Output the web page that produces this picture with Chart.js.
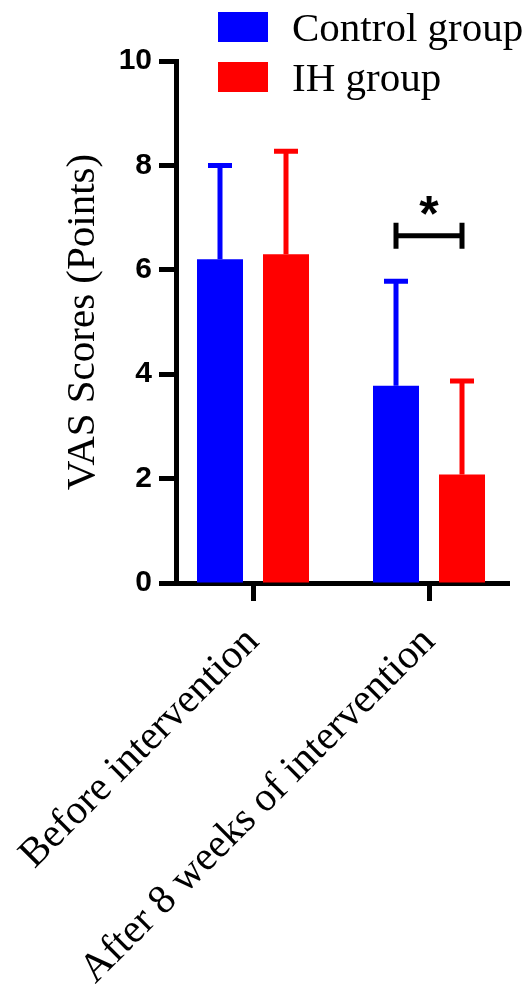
<!DOCTYPE html>
<html>
<head>
<meta charset="utf-8">
<script src="https://cdn.jsdelivr.net/npm/chart.js@4.4.1/dist/chart.umd.min.js"></script>
<style>
  html, body { margin: 0; padding: 0; background: #fff; }
  canvas { display: block; }
</style>
</head>
<body>
<canvas id="c" width="528" height="995"></canvas>
<script>
// ---- data ----
const categories = ['Before intervention', 'After 8 weeks of intervention'];
const seriesNames = ['Control group', 'IH group'];
const controlMean = [6.2, 3.78];
const controlSD = [1.8, 2.0];
const ihMean = [6.3, 2.08];
const ihSD = [1.97, 1.79];
const yTicks = [0, 2, 4, 6, 8, 10];
const sigCategory = 1;      // index of category with significance bracket
const sigValue = 6.65;      // bracket height in VAS points
const sigLabel = '*';

const BLUE = '#0000FF', RED = '#FF0000';
const SERIF = '"Liberation Serif", "Times New Roman", serif';
const SANS = '"Liberation Sans", Arial, sans-serif';

const errorBars = {
  id: 'errorBars',
  afterDatasetsDraw(chart) {
    const ctx = chart.ctx, y = chart.scales.y;
    chart.data.datasets.forEach((ds, di) => {
      const meta = chart.getDatasetMeta(di);
      meta.data.forEach((bar, i) => {
        const top = y.getPixelForValue(ds.means[i] + ds.sds[i]);
        ctx.save();
        ctx.strokeStyle = ds.backgroundColor;
        ctx.lineWidth = 5;
        ctx.beginPath();
        ctx.moveTo(bar.x, bar.y);
        ctx.lineTo(bar.x, top);
        ctx.moveTo(bar.x - 12, top);
        ctx.lineTo(bar.x + 12, top);
        ctx.stroke();
        ctx.restore();
      });
    });
    // significance bracket
    const a = chart.getDatasetMeta(0).data[sigCategory];
    const b = chart.getDatasetMeta(1).data[sigCategory];
    const yy = y.getPixelForValue(sigValue);
    ctx.save();
    ctx.strokeStyle = '#000';
    ctx.lineWidth = 5;
    ctx.beginPath();
    ctx.moveTo(a.x, yy); ctx.lineTo(b.x, yy);
    ctx.moveTo(a.x, yy - 13); ctx.lineTo(a.x, yy + 13);
    ctx.moveTo(b.x, yy - 13); ctx.lineTo(b.x, yy + 13);
    ctx.stroke();
    ctx.fillStyle = '#000';
    ctx.font = 'bold 50px ' + SANS;
    ctx.textAlign = 'center';
    ctx.textBaseline = 'alphabetic';
    ctx.fillText(sigLabel, (a.x + b.x) / 2, yy - 5);
    ctx.restore();
  }
};

const customLegend = {
  id: 'customLegend',
  afterDraw(chart) {
    const ctx = chart.ctx;
    chart.data.datasets.forEach((ds, i) => {
      const top = 12 + i * 50;
      ctx.save();
      ctx.fillStyle = ds.backgroundColor;
      ctx.fillRect(218, top, 50, 30);
      ctx.fillStyle = '#000';
      ctx.font = '41px ' + SERIF;
      ctx.textAlign = 'left';
      ctx.textBaseline = 'alphabetic';
      ctx.fillText(ds.label, 292, top + 29);
      ctx.restore();
    });
  }
};

new Chart(document.getElementById('c'), {
  type: 'bar',
  data: {
    datasets: [
      {
        label: seriesNames[0],
        data: controlMean.map((v, i) => ({ x: i, y: v })),
        means: controlMean, sds: controlSD,
        backgroundColor: BLUE,
        borderWidth: 0
      },
      {
        label: seriesNames[1],
        data: ihMean.map((v, i) => ({ x: i, y: v })),
        means: ihMean, sds: ihSD,
        backgroundColor: RED,
        borderWidth: 0
      }
    ]
  },
  options: {
    responsive: false,
    animation: false,
    categoryPercentage: 0.75,
    barPercentage: 0.697,
    layout: { padding: { top: 61, left: 55, right: 19, bottom: 0 } },
    plugins: { legend: { display: false }, tooltip: { enabled: false } },
    scales: {
      x: {
        type: 'linear',
        offset: false,
        min: -0.4375,
        max: 1.4545,
        afterBuildTicks: s => { s.ticks = categories.map((_, i) => ({ value: i })); },
        afterFit: s => { s.height = 412; s.paddingLeft = 0; s.paddingRight = 0; },
        border: { display: true, color: '#000', width: 5 },
        grid: { display: true, offset: false, drawOnChartArea: false, drawTicks: true, tickLength: 18, tickWidth: 5, tickColor: '#000', color: '#000' },
        ticks: {
          autoSkip: false,
          minRotation: 45, maxRotation: 45,
          padding: 17,
          color: '#000',
          font: { family: SERIF, size: 41 },
          callback: v => categories[v]
        }
      },
      y: {
        min: 0, max: 10,
        afterBuildTicks: s => { s.ticks = yTicks.map(v => ({ value: v })); },
        afterFit: s => { s.width = 121; s.paddingTop = 0; s.paddingBottom = 0; },
        border: { display: true, color: '#000', width: 5 },
        grid: { display: true, drawOnChartArea: false, drawTicks: true, tickLength: 17, tickWidth: 5, tickColor: '#000', color: '#000' },
        ticks: {
          padding: 7,
          color: '#000',
          font: { family: SANS, size: 30, weight: 'bold' }
        },
        title: {
          display: true,
          text: 'VAS Scores (Points)',
          color: '#000',
          padding: { top: 4, bottom: 0 },
          font: { family: SERIF, size: 41, weight: 'normal' }
        }
      }
    }
  },
  plugins: [errorBars, customLegend]
});
</script>
</body>
</html>
